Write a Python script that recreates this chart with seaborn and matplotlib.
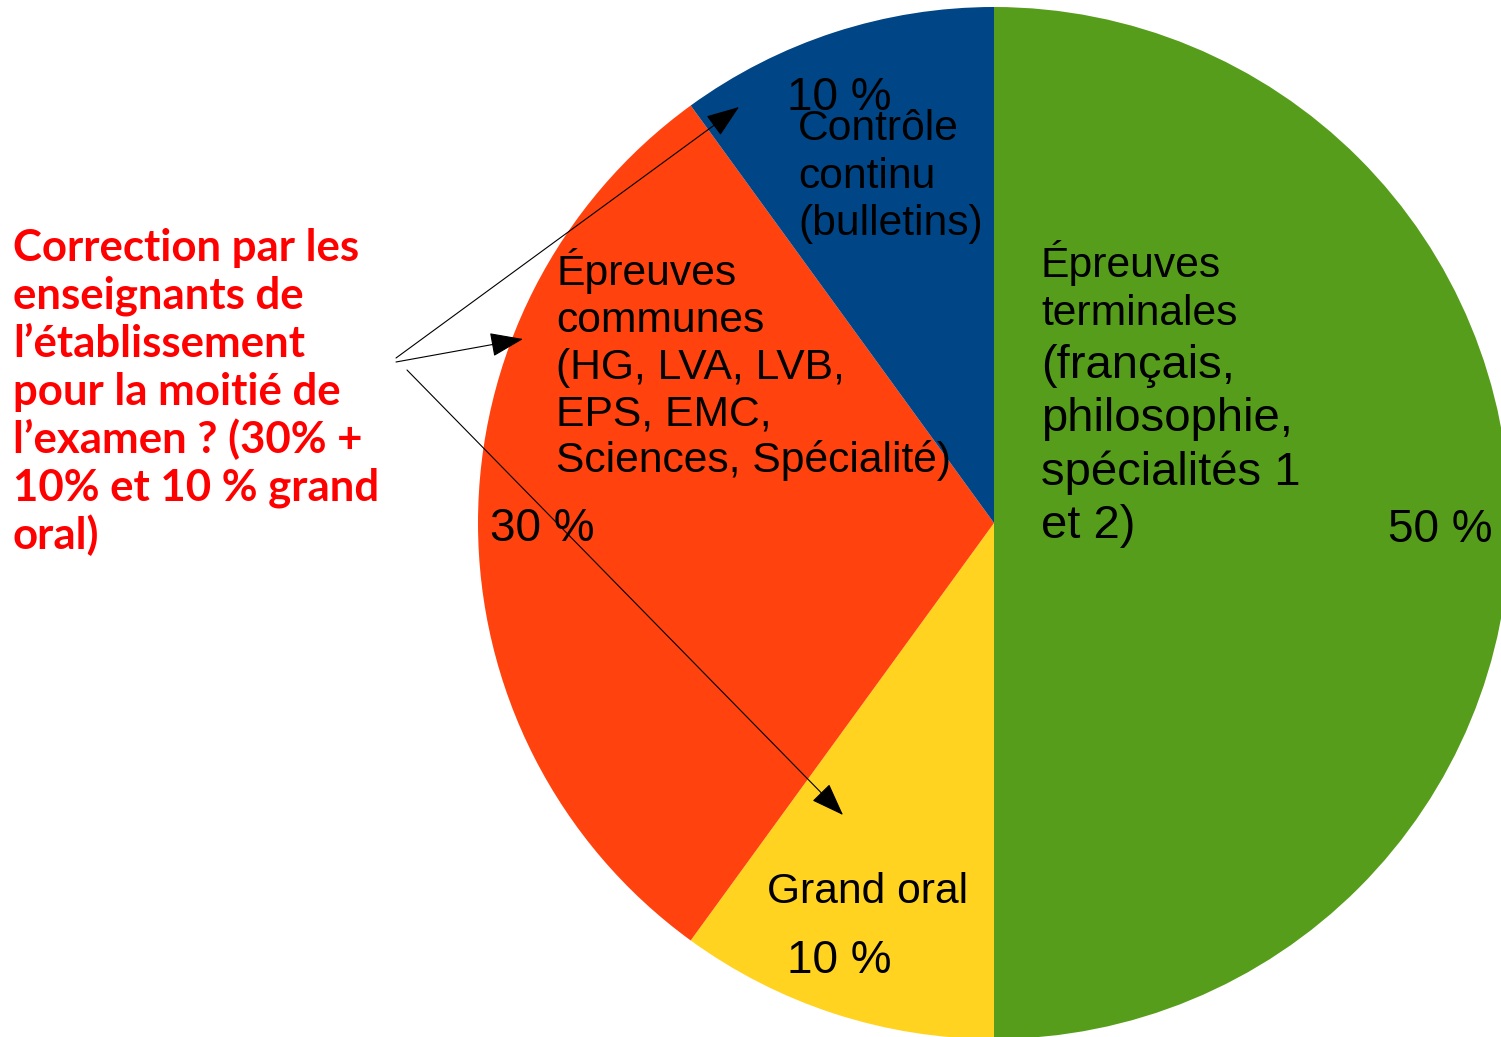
import matplotlib
matplotlib.use("Agg")
import matplotlib.pyplot as plt
import seaborn as sns

# parts of the final mark (clockwise from the top)
categories = ["Épreuves terminales", "Grand oral", "Épreuves communes", "Contrôle continu"]
shares = [50, 10, 30, 10]
share_labels = ["50 %", "10 %", "30 %", "10 %"]
slice_colors = ["#579d1c", "#ffd320", "#ff420e", "#004586"]

terminal_small = ["Épreuves", "terminales"]
terminal_big = ["(français,", "philosophie,", "spécialités 1", "et 2)"]
communes_lines = ["Épreuves", "communes", "(HG, LVA, LVB,", "EPS, EMC,", "Sciences, Spécialité)"]
controle_lines = ["Contrôle", "continu", "(bulletins)"]
note_lines = ["Correction par les", "enseignants de", "l’établissement",
              "pour la moitié de", "l’examen ? (30% +", "10% et 10 % grand", "oral)"]

W, H = 1501, 1037

sns.set_theme(style="white")
plt.rcParams['font.family'] = ['Liberation Sans', 'DejaVu Sans']
plt.rcParams['text.color'] = 'black'


def Y(y):
    return H - y


fig = plt.figure(figsize=(W / 100, H / 100), dpi=100)
ax = fig.add_axes([0, 0, 1, 1])

ax.pie(shares, colors=slice_colors, startangle=90, counterclock=False,
       center=(994, Y(523)), radius=516, wedgeprops=dict(linewidth=0), frame=True)
ax.set_xlim(0, W)
ax.set_ylim(0, H)
ax.set_aspect('equal')
ax.axis('off')

small, big, pct = 30.7, 34, 33

# labels inside the slices
for i, line in enumerate(terminal_small):
    ax.text(1041, Y(277 + 48 * i), line, fontsize=small, va='baseline', color='black')
for i, line in enumerate(terminal_big):
    ax.text(1041, Y(378 + 53.3 * i), line, fontsize=big, va='baseline', color='black')
ax.text(1388, Y(542), share_labels[0], fontsize=pct, va='baseline', color='black')

ax.text(767, Y(903), categories[1], fontsize=small, va='baseline', color='black')
ax.text(787, Y(973), share_labels[1], fontsize=pct, va='baseline', color='black')

for i, line in enumerate(communes_lines):
    ax.text(556, Y(285 + 46.8 * i), line, fontsize=small, va='baseline', color='black')
ax.text(490, Y(541), share_labels[2], fontsize=pct, va='baseline', color='black')

ax.text(787, Y(110), share_labels[3], fontsize=pct, va='baseline', color='black')
for i, line in enumerate(controle_lines):
    ax.text(798, Y(140 + 47.5 * i), line, fontsize=small, va='baseline', color='black')

# red note on the left
for i, line in enumerate(note_lines):
    ax.text(13, Y(261 + 48 * i), line, fontsize=31.5, va='baseline',
            color='#ff0000', fontweight='bold', family=['Lato', 'DejaVu Sans'])

arrow = dict(arrowstyle='-|>,head_length=1.5,head_width=0.55', mutation_scale=14,
             lw=0.8, color='black', shrinkA=0, shrinkB=0)
for (x0, y0), (x1, y1) in [((396, 358), (739, 107)),
                           ((396, 362), (523, 339)),
                           ((407, 370), (843, 815))]:
    ax.annotate('', xy=(x1, Y(y1)), xytext=(x0, Y(y0)), arrowprops=arrow)

fig.savefig('out.png', dpi=100)
